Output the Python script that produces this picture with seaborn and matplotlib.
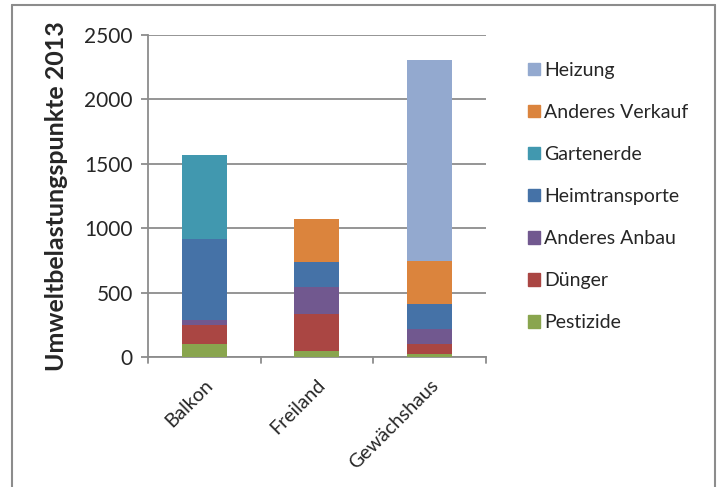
import matplotlib
matplotlib.use("Agg")
import matplotlib.pyplot as plt
import matplotlib.patches as mpatches
from matplotlib.lines import Line2D
import seaborn as sns
import pandas as pd
import numpy as np

categories = ["Balkon", "Freiland", "Gewächshaus"]
series_names = ["Pestizide", "Dünger", "Anderes Anbau", "Heimtransporte",
                "Gartenerde", "Anderes Verkauf", "Heizung"]
pestizide = [100, 45, 25]
duenger = [150, 285, 75]
anderes_anbau = [35, 210, 115]
heimtransporte = [630, 200, 200]
gartenerde = [650, 0, 0]
anderes_verkauf = [0, 330, 330]
heizung = [0, 0, 1560]
yticks = [0, 500, 1000, 1500, 2000, 2500]

colors = {
    "Pestizide": "#89A54E",
    "Dünger": "#AA4643",
    "Anderes Anbau": "#71588F",
    "Heimtransporte": "#4572A7",
    "Gartenerde": "#4198AF",
    "Anderes Verkauf": "#DB843D",
    "Heizung": "#93A9CF",
}

values = [pestizide, duenger, anderes_anbau, heimtransporte,
          gartenerde, anderes_verkauf, heizung]
df = pd.DataFrame(dict(zip(series_names, values)), index=categories)
cum = df.cumsum(axis=1)

sns.set_style("white")
plt.rcParams["font.family"] = ["Lato", "DejaVu Sans"]

fig = plt.figure(figsize=(7.19, 4.87), dpi=100)
ax = fig.add_axes([148 / 719, 1 - 357 / 487, (485.7 - 148) / 719, (357 - 35) / 487])

for name in reversed(series_names):
    d = pd.DataFrame({"cat": categories, "val": cum[name].values})
    sns.barplot(data=d, x="cat", y="val", color=colors[name], width=0.4,
                saturation=1, ax=ax, zorder=3, edgecolor="none", linewidth=0)

ax.set_ylim(0, 2500)
ax.set_xlim(-0.5, 2.5)
ax.set_yticks(yticks)
ax.set_yticklabels([str(t) for t in yticks], fontsize=15)
ax.yaxis.grid(True, color="#8C8C8C", linewidth=1.3, zorder=0)
ax.set_axisbelow(True)

ax.set_xticks([0, 1, 2])
ax.set_xticklabels(categories, rotation=45, ha="right", rotation_mode="anchor", fontsize=14)
ax.tick_params(axis="x", length=0, pad=14)
for b in [-0.5, 0.5, 1.5, 2.5]:
    ax.plot([b, b], [0, -0.018], transform=ax.get_xaxis_transform(),
            color="#8C8C8C", lw=1.3, clip_on=False)
ax.tick_params(axis="y", length=5, width=1.3, color="#8C8C8C", direction="out", left=True, pad=6)

for s in ["top", "right"]:
    ax.spines[s].set_visible(False)
for s in ["left", "bottom"]:
    ax.spines[s].set_color("#8C8C8C")
    ax.spines[s].set_linewidth(1.3)

ax.set_xlabel("")
ax.set_ylabel("Umweltbelastungspunkte 2013", fontsize=18, fontweight="bold")
ax.yaxis.set_label_coords(-0.236, 0.5)

handles = [mpatches.Patch(color=colors[n], label=n) for n in reversed(series_names)]
fig.legend(handles=handles, loc="upper left", bbox_to_anchor=(520 / 719, 1 - 54 / 487),
           frameon=False, fontsize=14, labelspacing=1.29, handlelength=0.62,
           handleheight=0.62, handletextpad=0.22, borderaxespad=0)

x0, x1, yt = 11.5 / 719, 714.5 / 719, 1 - 5 / 487
for xs, ys in [([x0, x0], [-0.05, yt]), ([x0, x1], [yt, yt]), ([x1, x1], [yt, -0.05])]:
    fig.add_artist(Line2D(xs, ys, transform=fig.transFigure, color="#8C8C8C", linewidth=1.5))

fig.savefig("out.png", dpi=100)
